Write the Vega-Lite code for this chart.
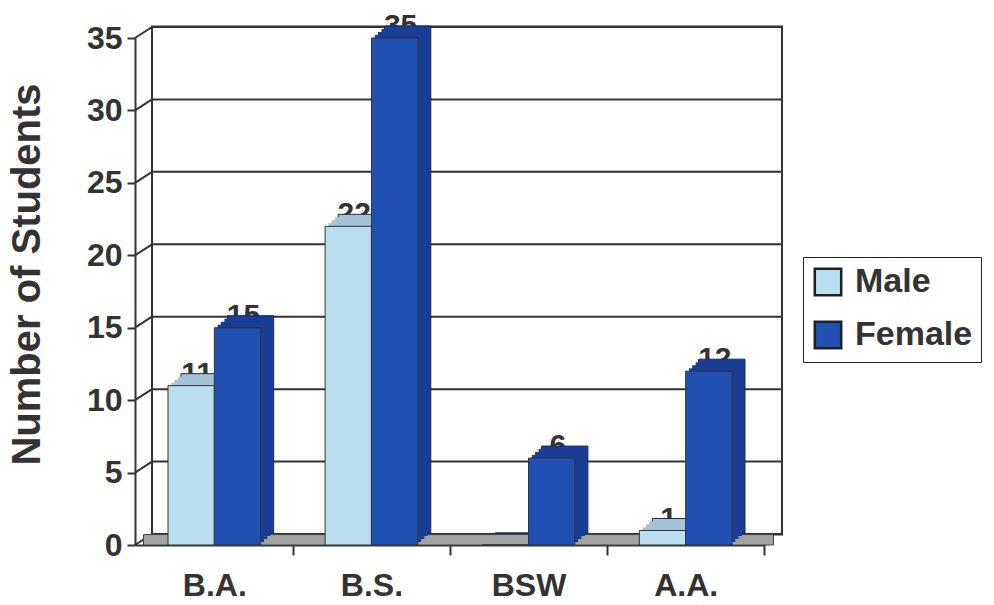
{
  "$schema": "https://vega.github.io/schema/vega-lite/v6.json",
  "width": 630,
  "height": 507,
  "autosize": {"type": "none"},
  "padding": {"left": 135, "top": 38, "right": 229, "bottom": 60},
  "background": "white",
  "config": {"view": {"stroke": null}, "font": "Liberation Sans"},
  "datasets": {
    "bars": [
      {"degree": "B.A.", "sex": "Male", "count": 11},
      {"degree": "B.A.", "sex": "Female", "count": 15},
      {"degree": "B.S.", "sex": "Male", "count": 22},
      {"degree": "B.S.", "sex": "Female", "count": 35},
      {"degree": "BSW", "sex": "Male", "count": 0},
      {"degree": "BSW", "sex": "Female", "count": 6},
      {"degree": "A.A.", "sex": "Male", "count": 1},
      {"degree": "A.A.", "sex": "Female", "count": 12}
    ],
    "ticks": [{"v": 0}, {"v": 5}, {"v": 10}, {"v": 15}, {"v": 20}, {"v": 25}, {"v": 30}, {"v": 35}],
    "one": [{}]
  },
  "resolve": {"scale": {"x": "independent", "xOffset": "independent"}, "axis": {"x": "independent", "y": "independent"}},
  "layer": [
    {
      "data": {"name": "one"},
      "mark": {"type": "rect", "fill": "white", "stroke": "#333", "strokeWidth": 2},
      "encoding": {
        "x": {"datum": 0, "type": "quantitative", "scale": {"domain": [-0.027, 0.973], "nice": false, "zero": false}, "axis": null},
        "x2": {"datum": 1},
        "y": {"datum": 0.72, "type": "quantitative", "scale": {"domain": [0, 35], "nice": false}, "axis": null},
        "y2": {"datum": 35.8}
      }
    },
    {
      "data": {"name": "ticks"},
      "mark": {"type": "rule", "color": "#333", "strokeWidth": 2, "yOffset": -11},
      "encoding": {
        "x": {"datum": 0, "type": "quantitative", "scale": {"domain": [-0.027, 0.973], "nice": false, "zero": false}, "axis": null},
        "x2": {"datum": 1},
        "y": {"field": "v", "type": "quantitative", "axis": null}
      }
    },
    {
      "data": {"name": "ticks"},
      "mark": {"type": "rule", "color": "#333", "strokeWidth": 2, "y2Offset": -11},
      "encoding": {
        "x": {"datum": -0.027, "type": "quantitative", "scale": {"domain": [-0.027, 0.973], "nice": false, "zero": false}, "axis": null},
        "x2": {"datum": 0},
        "y": {"field": "v", "type": "quantitative", "axis": null},
        "y2": {"field": "v"}
      }
    },
    {
      "data": {"name": "one"},
      "mark": {"type": "rect", "fill": "#a3a3a3", "stroke": "#444", "strokeWidth": 1},
      "encoding": {
        "x": {"datum": -0.0135, "type": "quantitative", "scale": {"domain": [-0.027, 0.973], "nice": false, "zero": false}, "axis": null},
        "x2": {"datum": 0.9865},
        "y": {"datum": 0, "type": "quantitative", "axis": null},
        "y2": {"datum": 0.72}
      }
    },
    {
      "data": {"name": "bars"},
      "transform": [{"filter": "datum.count > 0"}],
      "mark": {"type": "text", "fontSize": 30, "fontWeight": "bold", "color": "#333", "baseline": "alphabetic", "dy": -3, "dx": 6},
      "encoding": {
        "x": {"field": "degree", "type": "nominal", "sort": ["B.A.", "B.S.", "BSW", "A.A."], "scale": {"paddingInner": 0.41, "paddingOuter": 0.21}, "axis": null},
        "xOffset": {"field": "sex", "type": "nominal", "sort": ["Male", "Female"]},
        "y": {"field": "count", "type": "quantitative", "axis": null},
        "text": {"field": "count", "type": "quantitative"}
      }
    },
    {
      "data": {"name": "bars"},
      "mark": {"type": "bar", "stroke": "#1b2a55", "strokeWidth": 1, "yOffset": -12, "y2Offset": -12},
      "encoding": {
        "x": {"field": "degree", "type": "nominal", "sort": ["B.A.", "B.S.", "BSW", "A.A."], "scale": {"paddingInner": 0.41, "paddingOuter": 0.21, "range": [13, 643]}, "axis": null},
        "xOffset": {"field": "sex", "type": "nominal", "sort": ["Male", "Female"]},
        "y": {"field": "count", "type": "quantitative", "axis": null},
        "fill": {"condition": {"test": "datum.sex === 'Male'", "value": "#a3c3d6"}, "value": "#1a3d96"}
      }
    },
    {
      "data": {"name": "bars"},
      "mark": {"type": "bar", "yOffset": -9, "y2Offset": -9},
      "encoding": {
        "x": {"field": "degree", "type": "nominal", "sort": ["B.A.", "B.S.", "BSW", "A.A."], "scale": {"paddingInner": 0.41, "paddingOuter": 0.21, "range": [10, 640]}, "axis": null},
        "xOffset": {"field": "sex", "type": "nominal", "sort": ["Male", "Female"]},
        "y": {"field": "count", "type": "quantitative", "axis": null},
        "fill": {"condition": {"test": "datum.sex === 'Male'", "value": "#a3c3d6"}, "value": "#1a3d96"}
      }
    },
    {
      "data": {"name": "bars"},
      "mark": {"type": "bar", "yOffset": -6, "y2Offset": -6},
      "encoding": {
        "x": {"field": "degree", "type": "nominal", "sort": ["B.A.", "B.S.", "BSW", "A.A."], "scale": {"paddingInner": 0.41, "paddingOuter": 0.21, "range": [6.5, 636.5]}, "axis": null},
        "xOffset": {"field": "sex", "type": "nominal", "sort": ["Male", "Female"]},
        "y": {"field": "count", "type": "quantitative", "axis": null},
        "fill": {"condition": {"test": "datum.sex === 'Male'", "value": "#a3c3d6"}, "value": "#1a3d96"}
      }
    },
    {
      "data": {"name": "bars"},
      "mark": {"type": "bar", "yOffset": -3, "y2Offset": -3},
      "encoding": {
        "x": {"field": "degree", "type": "nominal", "sort": ["B.A.", "B.S.", "BSW", "A.A."], "scale": {"paddingInner": 0.41, "paddingOuter": 0.21, "range": [3.3, 633.3]}, "axis": null},
        "xOffset": {"field": "sex", "type": "nominal", "sort": ["Male", "Female"]},
        "y": {"field": "count", "type": "quantitative", "axis": null},
        "fill": {"condition": {"test": "datum.sex === 'Male'", "value": "#a3c3d6"}, "value": "#1a3d96"}
      }
    },
    {
      "data": {"name": "bars"},
      "mark": {"type": "bar", "stroke": "#333", "strokeWidth": 1},
      "encoding": {
        "x": {
          "field": "degree", "type": "nominal", "sort": ["B.A.", "B.S.", "BSW", "A.A."],
          "scale": {"paddingInner": 0.41, "paddingOuter": 0.21},
          "axis": {
            "title": null, "labelAngle": 0, "labelFontSize": 32, "labelFontWeight": "bold", "labelColor": "#333",
            "labelPadding": 15, "labelOffset": -78.6, "domainColor": "#333", "domainWidth": 2, "tickColor": "#333", "tickWidth": 2,
            "tickSize": 10, "tickBand": "center", "tickOffset": 78.6
          }
        },
        "xOffset": {"field": "sex", "type": "nominal", "sort": ["Male", "Female"]},
        "y": {
          "field": "count", "type": "quantitative",
          "axis": {
            "values": [0, 5, 10, 15, 20, 25, 30, 35], "grid": false, "title": "Number of Students",
            "titleFontSize": 40, "titleFontWeight": "bold", "titleColor": "#333",
            "titleX": -108, "titleY": 236, "titleAngle": -90, "titleBaseline": "middle", "titleAlign": "center",
            "labelFontSize": 32, "labelFontWeight": "bold", "labelColor": "#333", "labelPadding": 5,
            "domainColor": "#333", "domainWidth": 2, "tickColor": "#333", "tickWidth": 2, "tickSize": 8
          }
        },
        "color": {
          "field": "sex", "type": "nominal",
          "scale": {"domain": ["Male", "Female"], "range": ["#b8def0", "#1f50b2"]},
          "legend": {
            "title": null, "orient": "none", "legendX": 668, "legendY": 219,
            "strokeColor": "#222", "fillColor": "white", "padding": 8,
            "symbolType": "square", "symbolSize": 700, "symbolStrokeColor": "#222", "symbolStrokeWidth": 2.5,
            "labelFontSize": 34, "labelFontWeight": "bold", "labelColor": "#333", "rowPadding": 15, "labelOffset": 10
          }
        }
      }
    }
  ]
}
